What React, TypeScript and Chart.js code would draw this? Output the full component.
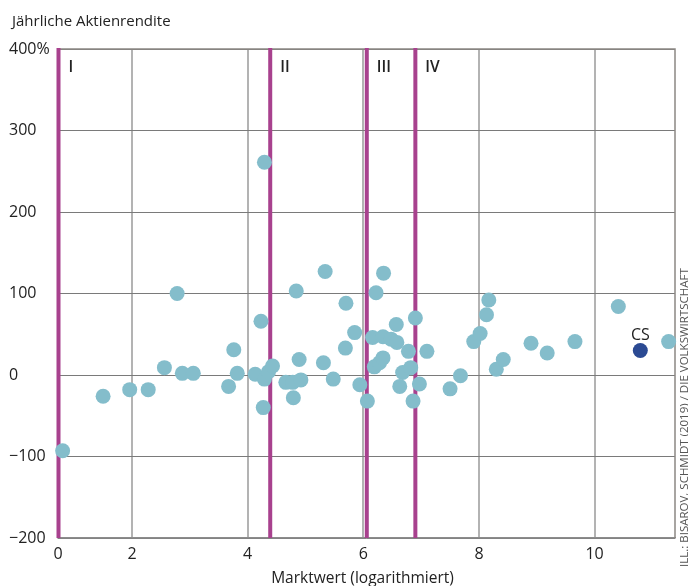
import { useEffect, useRef } from "react";
import { Chart, registerables } from "chart.js";

Chart.register(...registerables);

// ---- data ----
const X_MIN = 0.72;
const X_MAX = 11.39;
const Y_MIN = -200;
const Y_MAX = 400;
const X_TICKS = [X_MIN, 2, 4, 6, 8, 10];
const X_TICK_LABELS = ["0", "2", "4", "6", "8", "10"];
const Y_TICKS = [-200, -100, 0, 100, 200, 300, 400];
const Y_TICK_LABELS = ["−200", "−100", "0", "100", "200", "300", "400%"];
const REGION_X = [0.72, 4.39, 6.06, 6.9];
const REGION_LABELS = ["I", "II", "III", "IV"];

const FIRM_X = [
  0.8, 1.5, 1.96, 2.28, 2.56, 2.78, 2.87, 3.06, 3.67, 3.76, 3.82, 4.13, 4.23, 4.27, 4.29, 4.29,
  4.36, 4.43, 4.66, 4.78, 4.79, 4.84, 4.89, 4.92, 5.31, 5.34, 5.48, 5.69, 5.7, 5.85, 5.94, 6.07,
  6.16, 6.19, 6.22, 6.28, 6.34, 6.34, 6.35, 6.48, 6.57, 6.58, 6.63, 6.68, 6.78, 6.82, 6.86, 6.9,
  6.97, 7.1, 7.5, 7.68, 7.91, 8.02, 8.13, 8.17, 8.3, 8.42, 8.9, 9.18, 9.66, 10.41, 11.28,
];
const FIRM_Y = [
  -93, -26, -18, -18, 9, 100, 2, 2, -14, 31, 2, 1, 66, -40, 261, -5,
  4, 11, -9, -9, -28, 103, 19, -6, 15, 127, -5, 33, 88, 52, -12, -32,
  46, 10, 101, 15, 47, 21, 125, 44, 62, 40, -14, 3, 29, 9, -32, 70,
  -11, 29, -17, -1, 41, 51, 74, 92, 7, 19, 39, 27, 41, 84, 41,
];
const CS_X = [10.79];
const CS_Y = [30];
const CS_LABEL = "CS";

const Y_TITLE = "Jährliche Aktienrendite";
const X_TITLE = "Marktwert (logarithmiert)";
const SOURCE = "ILL.: BISAROV, SCHMIDT (2019) / DIE VOLKSWIRTSCHAFT";

const FONT = "'Open Sans', 'Noto Sans', sans-serif";
const MAGENTA = "#a8418e";
const LIGHT = "#84bdcb";
const DARK = "#2b4a93";

const overlay = {
  id: "overlay",
  beforeDatasetsDraw(chart: any) {
    const { ctx, chartArea: a, scales } = chart;
    const x = scales.x;
    ctx.save();
    ctx.strokeStyle = "#8c8884";
    ctx.lineWidth = 1.5;
    ctx.beginPath();
    ctx.moveTo(a.left, a.top);
    ctx.lineTo(a.right, a.top);
    ctx.lineTo(a.right, a.bottom);
    ctx.stroke();

    ctx.strokeStyle = MAGENTA;
    ctx.lineWidth = 4;
    ctx.fillStyle = "#222";
    ctx.font = `600 15.5px ${FONT}`;
    ctx.textAlign = "left";
    ctx.textBaseline = "alphabetic";
    REGION_X.forEach((v, i) => {
      const px = Math.max(x.getPixelForValue(v), a.left + 0.5);
      ctx.beginPath();
      ctx.moveTo(px, a.top - 1);
      ctx.lineTo(px, a.bottom);
      ctx.stroke();
      ctx.fillText(REGION_LABELS[i], px + 10, a.top + 23);
    });
    ctx.restore();
  },
  afterDatasetsDraw(chart: any) {
    const { ctx } = chart;
    const meta = chart.getDatasetMeta(1);
    ctx.save();
    ctx.fillStyle = "#222";
    ctx.font = `16px ${FONT}`;
    ctx.textAlign = "center";
    ctx.textBaseline = "alphabetic";
    meta.data.forEach((pt: any) => {
      ctx.fillText(CS_LABEL, pt.x, pt.y - 11);
    });
    ctx.restore();
  },
  afterDraw(chart: any) {
    const { ctx, chartArea: a } = chart;
    ctx.save();
    ctx.fillStyle = "#222";
    ctx.font = `15px ${FONT}`;
    ctx.textAlign = "left";
    ctx.textBaseline = "alphabetic";
    ctx.fillText(Y_TITLE, 12, 26);
    ctx.font = `15.5px ${FONT}`;
    ctx.textAlign = "center";
    ctx.fillText(X_TITLE, (a.left + a.right) / 2 - 4, 583);

    ctx.fillStyle = "#555";
    ctx.font = `11.5px ${FONT}`;
    ctx.textAlign = "left";
    ctx.translate(688, 567);
    ctx.rotate(-Math.PI / 2);
    ctx.fillText(SOURCE, 0, 0);
    ctx.restore();
  },
};

export default function App() {
  const ref = useRef<HTMLCanvasElement>(null);

  useEffect(() => {
    if (!ref.current) return;
    const chart = new Chart(ref.current, {
      type: "scatter",
      data: {
        datasets: [
          {
            data: FIRM_X.map((v, i) => ({ x: v, y: FIRM_Y[i] })),
            backgroundColor: LIGHT,
            borderWidth: 0,
            pointRadius: 7.5,
            pointHoverRadius: 7.5,
            clip: false,
          },
          {
            data: CS_X.map((v, i) => ({ x: v, y: CS_Y[i] })),
            backgroundColor: DARK,
            borderWidth: 0,
            pointRadius: 7.5,
            pointHoverRadius: 7.5,
            clip: false,
          },
        ],
      },
      options: {
        responsive: false,
        animation: false,
        events: [],
        layout: { padding: { left: 9, top: 49, right: 13, bottom: 0 } },
        plugins: { legend: { display: false }, tooltip: { enabled: false }, title: { display: false } },
        scales: {
          x: {
            type: "linear",
            min: X_MIN,
            max: X_MAX,
            afterBuildTicks: (s: any) => {
              s.ticks = X_TICKS.map((v) => ({ value: v }));
            },
            afterFit: (s: any) => {
              s.height = 48;
            },
            ticks: {
              autoSkip: false,
              maxRotation: 0,
              padding: 7,
              color: "#222",
              font: { family: FONT, size: 16 },
              callback: (_v: any, i: number) => X_TICK_LABELS[i],
            },
            grid: {
              drawTicks: false,
              lineWidth: 2,
              color: (c: any) => (c.index === 0 ? "rgba(0,0,0,0)" : "#b3b3b3"),
            },
            border: { display: true, color: "#8c8c8c", width: 1.5 },
          },
          y: {
            type: "linear",
            min: Y_MIN,
            max: Y_MAX,
            afterBuildTicks: (s: any) => {
              s.ticks = Y_TICKS.map((v) => ({ value: v }));
            },
            afterFit: (s: any) => {
              s.width = 49;
            },
            ticks: {
              autoSkip: false,
              crossAlign: "far",
              padding: 6,
              color: "#222",
              font: { family: FONT, size: 16 },
              callback: (_v: any, i: number) => Y_TICK_LABELS[i],
            },
            grid: { drawTicks: false, lineWidth: 1, color: "#7a7a7a" },
            border: { display: false },
          },
        },
      },
      plugins: [overlay],
    } as any);
    return () => chart.destroy();
  }, []);

  return (
    <div style={{ position: "absolute", left: 0, top: 0, width: 688, height: 586, background: "#fff" }}>
      <canvas ref={ref} width={688} height={586} style={{ display: "block" }} />
    </div>
  );
}
